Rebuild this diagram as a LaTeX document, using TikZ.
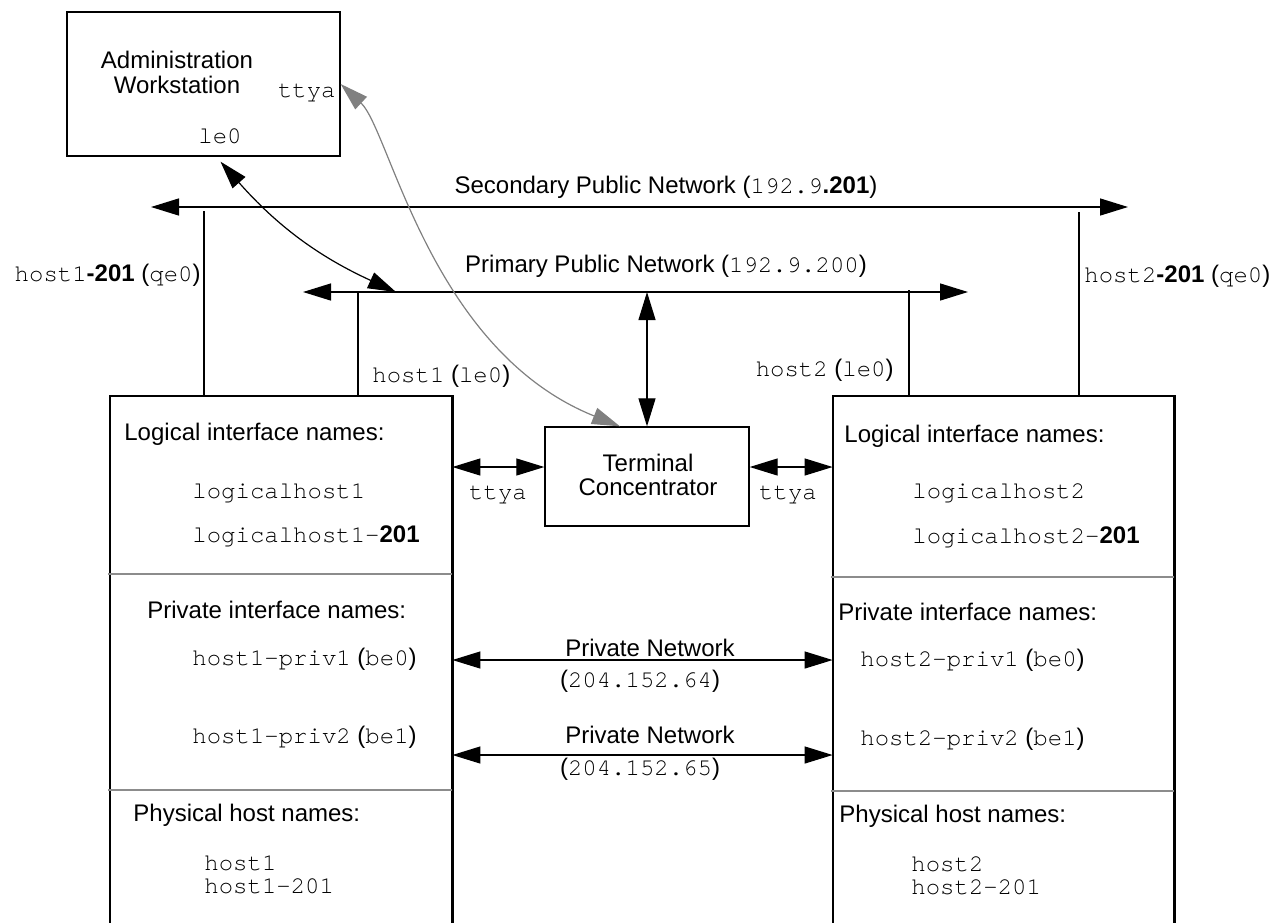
\documentclass[tikz,border=0pt]{standalone}
\usepackage{fontspec}
\setmainfont{Liberation Sans}
\setsansfont{Liberation Sans}
\setmonofont{TeX Gyre Cursor}
\usetikzlibrary{arrows.meta,fit,calc}
\definecolor{rulegray}{gray}{0.55}
\definecolor{serialgray}{gray}{0.5}
\begin{document}
\begin{tikzpicture}[x=0.5pt,y=-0.5pt,
  font=\fontsize{12}{14}\selectfont,
  >={Triangle[length=14pt,width=8.5pt]},
  txt/.style={inner sep=0pt},
  box/.style={draw,line width=0.65pt,inner sep=0pt},
  hostbox/.style={inner sep=0pt},
  netline/.style={line width=0.7pt,<->},
  link/.style={line width=0.6pt,<->},
  serial/.style={line width=0.6pt,draw=serialgray,<->,>={Triangle[length=14pt,width=8.5pt,fill=serialgray]}},
  drop/.style={line width=0.6pt},
  thickdrop/.style={line width=1.2pt},
  divider/.style={line width=0.6pt,draw=rulegray}
]
\useasboundingbox (0,0) rectangle (1283,922);

% ---- boxes ----
\node[box,fit={(67,12) (340,156)}] (admin) {};
\node[box,fit={(545,427) (749,526)}] (tc) {};
\node[hostbox,fit={(110,396) (452,925)}] (host1) {};
\node[hostbox,fit={(833,396) (1174,925)}] (host2) {};
\draw[line width=1.1pt] (host1.south west) |- (host1.north east) -- (host1.south east);
\draw[line width=1.1pt] (host2.south west) |- (host2.north east) -- (host2.south east);

% section dividers inside the host boxes
\draw[divider] (108,574) -- (host1.east |- 0,574);
\draw[divider] (108,790) -- (host1.east |- 0,790);
\draw[divider] (831,577) -- (host2.east |- 0,577);
\draw[divider] (831,791) -- (host2.east |- 0,791);

% ---- box labels ----
\node[txt,anchor=base] (adm1) at (177,68) {Administration};
\node[txt,anchor=base] (adm2) at (177,93) {Workstation};
\node[txt,anchor=base east] (admtty) at (336,97) {\texttt{ttya}};
\node[txt,anchor=base] (admle) at (220,143) {\texttt{le0}};
\node[txt,anchor=base] (tc1) at (648,471) {Terminal};
\node[txt,anchor=base] (tc2) at (648,495) {Concentrator};

% ---- public networks ----
\coordinate (secL) at (151,207);
\coordinate (secR) at (1128,207);
\coordinate (priL) at (303,292);
\coordinate (priR) at (968,292);
\draw[netline] (secL) -- (secR);
\draw[netline] (priL) -- (priR);
\node[txt,anchor=base] (seclab) at (666,193) {Secondary Public Network (\texttt{192.9}\textbf{.201})};
\node[txt,anchor=base] (prilab) at (666,272) {Primary Public Network (\texttt{192.9.200})};

% host attachments to the networks
\coordinate (q1) at (204,211);
\coordinate (l1) at (358,292);
\coordinate (l2) at (909,290);
\coordinate (q2) at (1079,212);
\draw[drop] (q1) -- (q1 |- host1.north);
\draw[drop] (l1) -- (l1 |- host1.north);
\draw[thickdrop] (l2) -- (l2 |- host2.north);
\draw[drop] (q2) -- (q2 |- host2.north);
\node[txt,anchor=base east] (q1lab) at (201,281) {\texttt{host1}\textbf{-201} (\texttt{qe0})};
\node[txt,anchor=base west] (l1lab) at (372,382) {\texttt{host1} (\texttt{le0})};
\node[txt,anchor=base east] (l2lab) at (894,376) {\texttt{host2} (\texttt{le0})};
\node[txt,anchor=base west] (q2lab) at (1084,282) {\texttt{host2}\textbf{-201} (\texttt{qe0})};

% admin workstation links
\coordinate (admHit) at (396,292);
\draw[link] ($(admin.south)+(17,5)$) to[bend right=12] (admHit);
\draw[serial] (admin.east) .. controls (390,130) and (430,350) .. ($(tc.north)+(-27,0)$);

% terminal concentrator links
\draw[link] (tc.north |- priL) -- (tc.north);
\draw[link] (host1.east |- 0,467) -- (tc.west |- 0,467);
\draw[link] (tc.east |- 0,467) -- (host2.west |- 0,467);
\node[txt,anchor=base] (tty1) at (498,499) {\texttt{ttya}};
\node[txt,anchor=base] (tty2) at (788,499) {\texttt{ttya}};

% private networks
\draw[link] (host1.east |- 0,660) -- (host2.west |- 0,660);
\draw[link] (host1.east |- 0,755) -- (host2.west |- 0,755);
\node[txt,anchor=base] (pn1) at (650,656) {Private Network};
\node[txt,anchor=base] (pn1a) at (640,687) {(\texttt{204.152.64})};
\node[txt,anchor=base] (pn2) at (650,743) {Private Network};
\node[txt,anchor=base] (pn2a) at (640,775) {(\texttt{204.152.65})};

% host 1 name lists
\node[txt,anchor=base west] (h1a) at (124,440) {Logical interface names:};
\node[txt,anchor=base west] (h1b) at (192,498) {\texttt{logicalhost1}};
\node[txt,anchor=base west] (h1c) at (192,542) {\texttt{logicalhost1-}\textbf{201}};
\node[txt,anchor=base west] (h1d) at (147,618) {Private interface names:};
\node[txt,anchor=base west] (h1e) at (192,665) {\texttt{host1-priv1} (\texttt{be0})};
\node[txt,anchor=base west] (h1f) at (192,743) {\texttt{host1-priv2} (\texttt{be1})};
\node[txt,anchor=base west] (h1g) at (133,821) {Physical host names:};
\node[txt,anchor=base west] (h1h) at (204,870) {\texttt{host1}};
\node[txt,anchor=base west] (h1i) at (204,893) {\texttt{host1-201}};

% host 2 name lists
\node[txt,anchor=base west] (h2a) at (844,442) {Logical interface names:};
\node[txt,anchor=base west] (h2b) at (912,498) {\texttt{logicalhost2}};
\node[txt,anchor=base west] (h2c) at (912,543) {\texttt{logicalhost2-}\textbf{201}};
\node[txt,anchor=base west] (h2d) at (838,620) {Private interface names:};
\node[txt,anchor=base west] (h2e) at (860,666) {\texttt{host2-priv1} (\texttt{be0})};
\node[txt,anchor=base west] (h2f) at (860,745) {\texttt{host2-priv2} (\texttt{be1})};
\node[txt,anchor=base west] (h2g) at (839,822) {Physical host names:};
\node[txt,anchor=base west] (h2h) at (911,871) {\texttt{host2}};
\node[txt,anchor=base west] (h2i) at (911,894) {\texttt{host2-201}};
\end{tikzpicture}
\end{document}
